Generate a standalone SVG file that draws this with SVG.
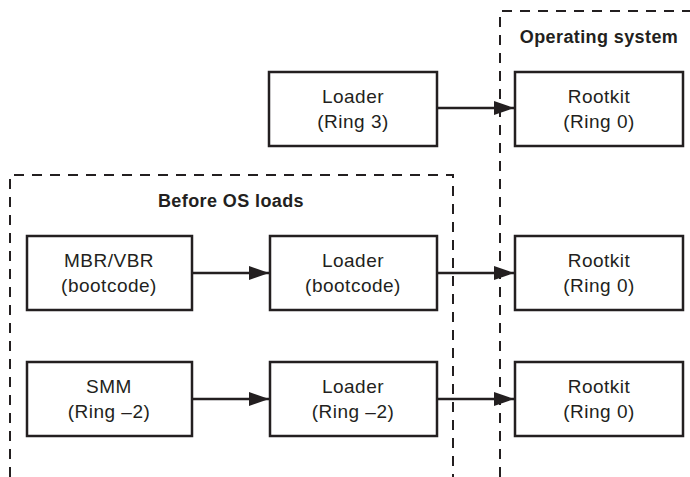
<svg xmlns="http://www.w3.org/2000/svg" width="690" height="477" viewBox="0 0 690 477">
<style>
.box{fill:#fff;stroke:#231f20;stroke-width:2.5}
.region{fill:none;stroke:#231f20;stroke-width:2;stroke-dasharray:10 8}
.t{font-family:"Liberation Sans",Arial,sans-serif;font-size:19px;letter-spacing:0.5px;fill:#231f20;text-anchor:middle}
.h{font-family:"Liberation Sans",Arial,sans-serif;font-size:18px;letter-spacing:0.4px;font-weight:bold;fill:#231f20;text-anchor:middle}
.c{stroke:#231f20;stroke-width:2.5;fill:none;marker-end:url(#ah)}
</style>
<defs>
<marker id="ah" viewBox="0 0 20 14" refX="20" refY="7" markerWidth="20" markerHeight="14" markerUnits="userSpaceOnUse" orient="auto">
<path d="M0,0 L20,7 L0,14 Z" fill="#231f20"/>
</marker>
</defs>
<g id="os-region">
<path class="region" d="M500,477 L500,11 L690,11"/>
<text class="h" x="599" y="43">Operating system</text>
</g>
<g id="before-os-region">
<path class="region" d="M10,477 L10,175 L453,175 L453,477"/>
<text class="h" x="231" y="207">Before OS loads</text>
</g>
<g id="connectors">
<line class="c" x1="437" y1="108" x2="514" y2="108"/>
<line class="c" x1="192" y1="273" x2="269" y2="273"/>
<line class="c" x1="437" y1="273" x2="514" y2="273"/>
<line class="c" x1="192" y1="399" x2="269" y2="399"/>
<line class="c" x1="437" y1="399" x2="514" y2="399"/>
</g>
<g id="loader-ring3">
<rect class="box" x="269" y="72" width="168" height="74"/>
<text class="t" x="353" y="103">Loader</text>
<text class="t" x="353" y="128">(Ring 3)</text>
</g>
<g id="rootkit-1">
<rect class="box" x="515" y="72" width="168" height="74"/>
<text class="t" x="599" y="103">Rootkit</text>
<text class="t" x="599" y="128">(Ring 0)</text>
</g>
<g id="mbr-vbr">
<rect class="box" x="27" y="236" width="165" height="74"/>
<text class="t" x="109" y="267">MBR/VBR</text>
<text class="t" x="109" y="292">(bootcode)</text>
</g>
<g id="loader-bootcode">
<rect class="box" x="270" y="236" width="167" height="74"/>
<text class="t" x="353" y="267">Loader</text>
<text class="t" x="353" y="292">(bootcode)</text>
</g>
<g id="rootkit-2">
<rect class="box" x="515" y="236" width="168" height="74"/>
<text class="t" x="599" y="267">Rootkit</text>
<text class="t" x="599" y="292">(Ring 0)</text>
</g>
<g id="smm">
<rect class="box" x="27" y="362" width="165" height="74"/>
<text class="t" x="109" y="393">SMM</text>
<text class="t" x="109" y="418">(Ring –2)</text>
</g>
<g id="loader-ring-2">
<rect class="box" x="270" y="362" width="167" height="74"/>
<text class="t" x="353" y="393">Loader</text>
<text class="t" x="353" y="418">(Ring –2)</text>
</g>
<g id="rootkit-3">
<rect class="box" x="515" y="362" width="168" height="74"/>
<text class="t" x="599" y="393">Rootkit</text>
<text class="t" x="599" y="418">(Ring 0)</text>
</g>
</svg>
